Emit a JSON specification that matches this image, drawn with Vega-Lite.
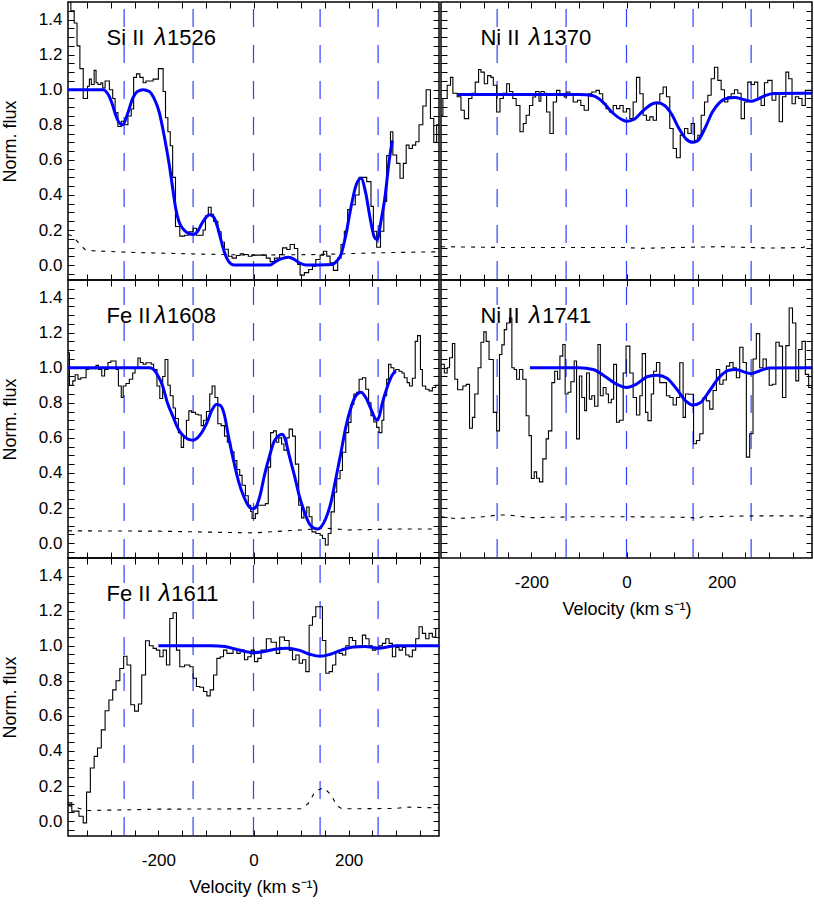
{
"$schema": "https://vega.github.io/schema/vega-lite/v6.json",
"background": "white",
"padding": {"left": 0, "top": 0, "right": 0, "bottom": 0},
"datasets": {
"vel": [{"v": -272}, {"v": -127}, {"v": 0}, {"v": 140}, {"v": 262}],
"lab": [
{"p": "a", "ion": "Si II", "lam": "λ", "wl": "1526"},
{"p": "b", "ion": "Fe II", "lam": "λ", "wl": "1608"},
{"p": "c", "ion": "Fe II", "lam": "λ", "wl": "1611"},
{"p": "d", "ion": "Ni II", "lam": "λ", "wl": "1370"},
{"p": "e", "ion": "Ni II", "lam": "λ", "wl": "1741"}
],
"spec": [
{"p":"a","v":-390,"f":1.52},{"p":"a","v":-384,"f":1.45},{"p":"a","v":-377,"f":1.38},{"p":"a","v":-371,"f":1.25},{"p":"a","v":-365,"f":1.12},{"p":"a","v":-358,"f":0.95},{"p":"a","v":-349,"f":1.02},{"p":"a","v":-345,"f":1.06},{"p":"a","v":-341,"f":1.03},{"p":"a","v":-335,"f":1.11},{"p":"a","v":-331,"f":1.04},{"p":"a","v":-327,"f":1.03},{"p":"a","v":-321,"f":1.04},{"p":"a","v":-317,"f":1.01},{"p":"a","v":-312,"f":1.05},{"p":"a","v":-303,"f":1.0},{"p":"a","v":-296,"f":0.95},{"p":"a","v":-291,"f":0.87},{"p":"a","v":-285,"f":0.79},{"p":"a","v":-278,"f":0.82},{"p":"a","v":-271,"f":0.8},{"p":"a","v":-264,"f":0.85},{"p":"a","v":-257,"f":0.89},{"p":"a","v":-252,"f":1.07},{"p":"a","v":-246,"f":1.09},{"p":"a","v":-239,"f":1.07},{"p":"a","v":-232,"f":1.04},{"p":"a","v":-226,"f":1.05},{"p":"a","v":-221,"f":1.05},{"p":"a","v":-211,"f":1.06},{"p":"a","v":-200,"f":1.12},{"p":"a","v":-190,"f":0.99},{"p":"a","v":-185,"f":0.84},{"p":"a","v":-180,"f":0.76},{"p":"a","v":-175,"f":0.68},{"p":"a","v":-170,"f":0.5},{"p":"a","v":-164,"f":0.22},{"p":"a","v":-155,"f":0.165},{"p":"a","v":-145,"f":0.17},{"p":"a","v":-136,"f":0.19},{"p":"a","v":-127,"f":0.21},{"p":"a","v":-120,"f":0.17},{"p":"a","v":-106,"f":0.2},{"p":"a","v":-101,"f":0.28},{"p":"a","v":-95,"f":0.33},{"p":"a","v":-89,"f":0.29},{"p":"a","v":-84,"f":0.25},{"p":"a","v":-75,"f":0.19},{"p":"a","v":-68,"f":0.13},{"p":"a","v":-61,"f":0.09},{"p":"a","v":-53,"f":0.05},{"p":"a","v":-45,"f":0.04},{"p":"a","v":-36,"f":0.055},{"p":"a","v":-28,"f":0.065},{"p":"a","v":-21,"f":0.06},{"p":"a","v":-11,"f":0.05},{"p":"a","v":-3,"f":0.057},{"p":"a","v":27,"f":0.04},{"p":"a","v":35,"f":0.02},{"p":"a","v":44,"f":0.04},{"p":"a","v":55,"f":0.06},{"p":"a","v":61,"f":0.098},{"p":"a","v":70,"f":0.089},{"p":"a","v":77,"f":0.117},{"p":"a","v":86,"f":0.095},{"p":"a","v":93,"f":0.004},{"p":"a","v":98,"f":-0.057},{"p":"a","v":107,"f":-0.043},{"p":"a","v":116,"f":-0.025},{"p":"a","v":124,"f":-0.006},{"p":"a","v":131,"f":0.032},{"p":"a","v":140,"f":0.057},{"p":"a","v":147,"f":0.079},{"p":"a","v":154,"f":0.051},{"p":"a","v":161,"f":0.013},{"p":"a","v":168,"f":-0.03},{"p":"a","v":177,"f":0.04},{"p":"a","v":184,"f":0.117},{"p":"a","v":191,"f":0.193},{"p":"a","v":198,"f":0.316},{"p":"a","v":205,"f":0.344},{"p":"a","v":214,"f":0.4},{"p":"a","v":222,"f":0.5},{"p":"a","v":238,"f":0.476},{"p":"a","v":247,"f":0.335},{"p":"a","v":252,"f":0.193},{"p":"a","v":259,"f":0.102},{"p":"a","v":267,"f":0.193},{"p":"a","v":274,"f":0.363},{"p":"a","v":280,"f":0.624},{"p":"a","v":288,"f":0.76},{"p":"a","v":293,"f":0.628},{"p":"a","v":301,"f":0.58},{"p":"a","v":308,"f":0.495},{"p":"a","v":315,"f":0.58},{"p":"a","v":321,"f":0.684},{"p":"a","v":327,"f":0.665},{"p":"a","v":334,"f":0.684},{"p":"a","v":341,"f":0.703},{"p":"a","v":348,"f":0.8},{"p":"a","v":356,"f":0.907},{"p":"a","v":363,"f":1.0},{"p":"a","v":372,"f":0.836},{"p":"a","v":379,"f":0.7},{"p":"a","v":385,"f":0.8},{"p":"a","v":390,"f":0.8},
{"p":"b","v":-390,"f":1.085},{"p":"b","v":-387,"f":0.9},{"p":"b","v":-380,"f":0.925},{"p":"b","v":-375,"f":0.96},{"p":"b","v":-369,"f":0.935},{"p":"b","v":-363,"f":0.943},{"p":"b","v":-352,"f":0.99},{"p":"b","v":-347,"f":0.994},{"p":"b","v":-331,"f":1.013},{"p":"b","v":-326,"f":0.99},{"p":"b","v":-319,"f":0.953},{"p":"b","v":-313,"f":0.99},{"p":"b","v":-306,"f":1.03},{"p":"b","v":-300,"f":1.038},{"p":"b","v":-289,"f":0.99},{"p":"b","v":-284,"f":0.896},{"p":"b","v":-278,"f":0.83},{"p":"b","v":-274,"f":0.896},{"p":"b","v":-268,"f":0.91},{"p":"b","v":-261,"f":0.934},{"p":"b","v":-254,"f":0.97},{"p":"b","v":-249,"f":1.0},{"p":"b","v":-243,"f":1.055},{"p":"b","v":-238,"f":1.03},{"p":"b","v":-232,"f":1.02},{"p":"b","v":-226,"f":1.028},{"p":"b","v":-215,"f":1.02},{"p":"b","v":-210,"f":0.99},{"p":"b","v":-203,"f":0.896},{"p":"b","v":-197,"f":0.824},{"p":"b","v":-191,"f":0.95},{"p":"b","v":-186,"f":1.047},{"p":"b","v":-180,"f":0.9},{"p":"b","v":-175,"f":0.84},{"p":"b","v":-169,"f":0.77},{"p":"b","v":-164,"f":0.71},{"p":"b","v":-158,"f":0.63},{"p":"b","v":-152,"f":0.546},{"p":"b","v":-147,"f":0.6},{"p":"b","v":-141,"f":0.7},{"p":"b","v":-136,"f":0.754},{"p":"b","v":-130,"f":0.745},{"p":"b","v":-122,"f":0.735},{"p":"b","v":-116,"f":0.73},{"p":"b","v":-110,"f":0.67},{"p":"b","v":-105,"f":0.7},{"p":"b","v":-99,"f":0.75},{"p":"b","v":-92,"f":0.85},{"p":"b","v":-87,"f":0.896},{"p":"b","v":-81,"f":0.83},{"p":"b","v":-75,"f":0.68},{"p":"b","v":-68,"f":0.67},{"p":"b","v":-61,"f":0.61},{"p":"b","v":-55,"f":0.575},{"p":"b","v":-48,"f":0.52},{"p":"b","v":-41,"f":0.47},{"p":"b","v":-35,"f":0.42},{"p":"b","v":-29,"f":0.386},{"p":"b","v":-24,"f":0.33},{"p":"b","v":-17,"f":0.27},{"p":"b","v":-11,"f":0.216},{"p":"b","v":-6,"f":0.18},{"p":"b","v":-3,"f":0.14},{"p":"b","v":4,"f":0.168},{"p":"b","v":9,"f":0.216},{"p":"b","v":25,"f":0.225},{"p":"b","v":31,"f":0.433},{"p":"b","v":36,"f":0.63},{"p":"b","v":42,"f":0.64},{"p":"b","v":48,"f":0.575},{"p":"b","v":53,"f":0.6},{"p":"b","v":59,"f":0.565},{"p":"b","v":64,"f":0.53},{"p":"b","v":70,"f":0.6},{"p":"b","v":75,"f":0.65},{"p":"b","v":82,"f":0.61},{"p":"b","v":88,"f":0.45},{"p":"b","v":95,"f":0.216},{"p":"b","v":101,"f":0.144},{"p":"b","v":106,"f":0.17},{"p":"b","v":112,"f":0.206},{"p":"b","v":117,"f":0.15},{"p":"b","v":123,"f":0.064},{"p":"b","v":131,"f":0.055},{"p":"b","v":140,"f":0.045},{"p":"b","v":145,"f":0.026},{"p":"b","v":151,"f":-0.011},{"p":"b","v":157,"f":0.055},{"p":"b","v":163,"f":0.178},{"p":"b","v":170,"f":0.29},{"p":"b","v":175,"f":0.367},{"p":"b","v":182,"f":0.414},{"p":"b","v":187,"f":0.518},{"p":"b","v":194,"f":0.63},{"p":"b","v":200,"f":0.688},{"p":"b","v":205,"f":0.79},{"p":"b","v":211,"f":0.85},{"p":"b","v":217,"f":0.86},{"p":"b","v":222,"f":0.934},{"p":"b","v":229,"f":0.943},{"p":"b","v":236,"f":0.877},{"p":"b","v":242,"f":0.8},{"p":"b","v":247,"f":0.726},{"p":"b","v":253,"f":0.69},{"p":"b","v":259,"f":0.66},{"p":"b","v":264,"f":0.63},{"p":"b","v":270,"f":0.7},{"p":"b","v":274,"f":0.84},{"p":"b","v":280,"f":0.934},{"p":"b","v":284,"f":1.02},{"p":"b","v":289,"f":1.0},{"p":"b","v":295,"f":0.98},{"p":"b","v":299,"f":0.99},{"p":"b","v":306,"f":0.98},{"p":"b","v":312,"f":0.97},{"p":"b","v":317,"f":0.943},{"p":"b","v":323,"f":0.915},{"p":"b","v":328,"f":0.896},{"p":"b","v":334,"f":0.94},{"p":"b","v":340,"f":1.15},{"p":"b","v":345,"f":1.183},{"p":"b","v":351,"f":0.99},{"p":"b","v":355,"f":0.896},{"p":"b","v":362,"f":0.877},{"p":"b","v":369,"f":0.868},{"p":"b","v":376,"f":0.887},{"p":"b","v":383,"f":0.9},{"p":"b","v":390,"f":0.9},
{"p":"c","v":-390,"f":0.104},{"p":"c","v":-382,"f":0.057},{"p":"c","v":-367,"f":0.028},{"p":"c","v":-358,"f":-0.01},{"p":"c","v":-351,"f":0.165},{"p":"c","v":-343,"f":0.303},{"p":"c","v":-335,"f":0.369},{"p":"c","v":-328,"f":0.417},{"p":"c","v":-320,"f":0.52},{"p":"c","v":-312,"f":0.629},{"p":"c","v":-304,"f":0.69},{"p":"c","v":-296,"f":0.748},{"p":"c","v":-289,"f":0.8},{"p":"c","v":-281,"f":0.87},{"p":"c","v":-273,"f":0.94},{"p":"c","v":-266,"f":0.89},{"p":"c","v":-258,"f":0.663},{"p":"c","v":-250,"f":0.627},{"p":"c","v":-242,"f":0.668},{"p":"c","v":-235,"f":0.833},{"p":"c","v":-227,"f":1.028},{"p":"c","v":-219,"f":1.0},{"p":"c","v":-211,"f":0.985},{"p":"c","v":-204,"f":0.975},{"p":"c","v":-197,"f":0.937},{"p":"c","v":-190,"f":0.975},{"p":"c","v":-183,"f":0.89},{"p":"c","v":-176,"f":1.155},{"p":"c","v":-169,"f":1.188},{"p":"c","v":-162,"f":0.975},{"p":"c","v":-155,"f":0.88},{"p":"c","v":-145,"f":0.89},{"p":"c","v":-134,"f":0.88},{"p":"c","v":-127,"f":0.814},{"p":"c","v":-120,"f":0.767},{"p":"c","v":-113,"f":0.763},{"p":"c","v":-105,"f":0.739},{"p":"c","v":-98,"f":0.714},{"p":"c","v":-91,"f":0.748},{"p":"c","v":-84,"f":0.833},{"p":"c","v":-77,"f":0.928},{"p":"c","v":-70,"f":0.937},{"p":"c","v":-63,"f":0.975},{"p":"c","v":-56,"f":0.956},{"p":"c","v":-43,"f":0.985},{"p":"c","v":-35,"f":0.956},{"p":"c","v":-28,"f":0.975},{"p":"c","v":-19,"f":0.92},{"p":"c","v":-12,"f":0.937},{"p":"c","v":-5,"f":0.975},{"p":"c","v":2,"f":0.909},{"p":"c","v":9,"f":0.928},{"p":"c","v":16,"f":0.975},{"p":"c","v":27,"f":1.04},{"p":"c","v":37,"f":1.02},{"p":"c","v":48,"f":0.956},{"p":"c","v":55,"f":1.05},{"p":"c","v":65,"f":1.03},{"p":"c","v":75,"f":0.975},{"p":"c","v":82,"f":0.92},{"p":"c","v":89,"f":0.947},{"p":"c","v":96,"f":0.9},{"p":"c","v":103,"f":0.92},{"p":"c","v":110,"f":0.852},{"p":"c","v":117,"f":1.117},{"p":"c","v":124,"f":1.165},{"p":"c","v":131,"f":1.222},{"p":"c","v":145,"f":1.03},{"p":"c","v":152,"f":0.843},{"p":"c","v":159,"f":0.852},{"p":"c","v":166,"f":0.89},{"p":"c","v":173,"f":0.966},{"p":"c","v":180,"f":0.956},{"p":"c","v":187,"f":0.947},{"p":"c","v":194,"f":1.0},{"p":"c","v":201,"f":1.047},{"p":"c","v":208,"f":1.03},{"p":"c","v":215,"f":0.99},{"p":"c","v":222,"f":1.0},{"p":"c","v":229,"f":1.06},{"p":"c","v":236,"f":1.04},{"p":"c","v":243,"f":1.0},{"p":"c","v":250,"f":0.975},{"p":"c","v":257,"f":0.985},{"p":"c","v":264,"f":1.0},{"p":"c","v":271,"f":1.013},{"p":"c","v":278,"f":1.04},{"p":"c","v":285,"f":1.013},{"p":"c","v":292,"f":0.937},{"p":"c","v":299,"f":0.99},{"p":"c","v":306,"f":0.975},{"p":"c","v":313,"f":0.99},{"p":"c","v":320,"f":0.947},{"p":"c","v":327,"f":0.937},{"p":"c","v":334,"f":0.975},{"p":"c","v":341,"f":1.04},{"p":"c","v":348,"f":1.108},{"p":"c","v":355,"f":1.07},{"p":"c","v":362,"f":1.04},{"p":"c","v":369,"f":1.07},{"p":"c","v":376,"f":1.05},{"p":"c","v":383,"f":1.098},{"p":"c","v":390,"f":1.098},
{"p":"d","v":-390,"f":0.854},{"p":"d","v":-386,"f":0.95},{"p":"d","v":-377,"f":1.025},{"p":"d","v":-370,"f":1.07},{"p":"d","v":-365,"f":0.98},{"p":"d","v":-356,"f":0.96},{"p":"d","v":-348,"f":0.883},{"p":"d","v":-341,"f":0.835},{"p":"d","v":-332,"f":0.95},{"p":"d","v":-325,"f":0.98},{"p":"d","v":-318,"f":1.043},{"p":"d","v":-311,"f":1.115},{"p":"d","v":-306,"f":1.1},{"p":"d","v":-299,"f":1.034},{"p":"d","v":-292,"f":1.08},{"p":"d","v":-285,"f":1.07},{"p":"d","v":-280,"f":1.025},{"p":"d","v":-273,"f":0.873},{"p":"d","v":-266,"f":0.95},{"p":"d","v":-259,"f":0.98},{"p":"d","v":-252,"f":1.034},{"p":"d","v":-246,"f":0.99},{"p":"d","v":-239,"f":0.95},{"p":"d","v":-232,"f":0.91},{"p":"d","v":-224,"f":0.76},{"p":"d","v":-217,"f":0.807},{"p":"d","v":-211,"f":0.854},{"p":"d","v":-204,"f":0.91},{"p":"d","v":-197,"f":0.958},{"p":"d","v":-191,"f":0.99},{"p":"d","v":-184,"f":0.934},{"p":"d","v":-180,"f":0.99},{"p":"d","v":-173,"f":0.98},{"p":"d","v":-168,"f":0.873},{"p":"d","v":-161,"f":0.75},{"p":"d","v":-154,"f":0.93},{"p":"d","v":-147,"f":0.996},{"p":"d","v":-140,"f":0.977},{"p":"d","v":-131,"f":0.958},{"p":"d","v":-126,"f":0.987},{"p":"d","v":-119,"f":0.977},{"p":"d","v":-112,"f":0.93},{"p":"d","v":-103,"f":0.94},{"p":"d","v":-96,"f":0.91},{"p":"d","v":-89,"f":0.883},{"p":"d","v":-80,"f":0.977},{"p":"d","v":-73,"f":0.987},{"p":"d","v":-64,"f":0.996},{"p":"d","v":-57,"f":0.977},{"p":"d","v":-50,"f":0.92},{"p":"d","v":-43,"f":0.892},{"p":"d","v":-36,"f":0.873},{"p":"d","v":-28,"f":0.91},{"p":"d","v":-21,"f":0.892},{"p":"d","v":-14,"f":0.91},{"p":"d","v":-7,"f":0.873},{"p":"d","v":0,"f":0.892},{"p":"d","v":7,"f":0.835},{"p":"d","v":14,"f":0.93},{"p":"d","v":21,"f":1.07},{"p":"d","v":28,"f":0.977},{"p":"d","v":35,"f":0.854},{"p":"d","v":42,"f":0.826},{"p":"d","v":49,"f":0.845},{"p":"d","v":56,"f":0.826},{"p":"d","v":63,"f":0.92},{"p":"d","v":70,"f":0.977},{"p":"d","v":77,"f":1.015},{"p":"d","v":84,"f":0.96},{"p":"d","v":91,"f":0.779},{"p":"d","v":98,"f":0.665},{"p":"d","v":105,"f":0.612},{"p":"d","v":113,"f":0.741},{"p":"d","v":122,"f":0.779},{"p":"d","v":129,"f":0.75},{"p":"d","v":136,"f":0.807},{"p":"d","v":143,"f":0.703},{"p":"d","v":150,"f":0.74},{"p":"d","v":157,"f":0.854},{"p":"d","v":164,"f":0.93},{"p":"d","v":171,"f":0.968},{"p":"d","v":178,"f":1.062},{"p":"d","v":185,"f":1.128},{"p":"d","v":192,"f":1.053},{"p":"d","v":199,"f":1.0},{"p":"d","v":206,"f":0.93},{"p":"d","v":213,"f":0.96},{"p":"d","v":220,"f":0.977},{"p":"d","v":227,"f":1.0},{"p":"d","v":234,"f":0.98},{"p":"d","v":241,"f":0.835},{"p":"d","v":248,"f":0.93},{"p":"d","v":255,"f":1.043},{"p":"d","v":262,"f":1.03},{"p":"d","v":269,"f":1.043},{"p":"d","v":276,"f":0.95},{"p":"d","v":283,"f":0.91},{"p":"d","v":290,"f":1.04},{"p":"d","v":297,"f":1.053},{"p":"d","v":306,"f":0.94},{"p":"d","v":314,"f":0.977},{"p":"d","v":321,"f":0.817},{"p":"d","v":328,"f":0.96},{"p":"d","v":335,"f":1.1},{"p":"d","v":341,"f":1.062},{"p":"d","v":348,"f":0.92},{"p":"d","v":355,"f":0.96},{"p":"d","v":362,"f":0.95},{"p":"d","v":369,"f":0.91},{"p":"d","v":376,"f":0.996},{"p":"d","v":383,"f":0.996},{"p":"d","v":390,"f":0.996},
{"p":"e","v":-390,"f":1.02},{"p":"e","v":-383,"f":0.97},{"p":"e","v":-377,"f":1.0},{"p":"e","v":-372,"f":1.057},{"p":"e","v":-366,"f":1.138},{"p":"e","v":-361,"f":0.934},{"p":"e","v":-355,"f":0.874},{"p":"e","v":-344,"f":0.896},{"p":"e","v":-337,"f":0.905},{"p":"e","v":-330,"f":0.655},{"p":"e","v":-324,"f":0.717},{"p":"e","v":-319,"f":0.85},{"p":"e","v":-312,"f":1.0},{"p":"e","v":-306,"f":1.145},{"p":"e","v":-300,"f":1.204},{"p":"e","v":-295,"f":1.15},{"p":"e","v":-289,"f":1.047},{"p":"e","v":-280,"f":0.745},{"p":"e","v":-273,"f":0.64},{"p":"e","v":-267,"f":1.075},{"p":"e","v":-262,"f":1.13},{"p":"e","v":-257,"f":1.217},{"p":"e","v":-252,"f":1.255},{"p":"e","v":-246,"f":1.283},{"p":"e","v":-241,"f":1.0},{"p":"e","v":-236,"f":0.99},{"p":"e","v":-231,"f":0.934},{"p":"e","v":-225,"f":0.99},{"p":"e","v":-218,"f":0.934},{"p":"e","v":-211,"f":0.726},{"p":"e","v":-205,"f":0.613},{"p":"e","v":-200,"f":0.368},{"p":"e","v":-194,"f":0.406},{"p":"e","v":-189,"f":0.37},{"p":"e","v":-183,"f":0.349},{"p":"e","v":-176,"f":0.48},{"p":"e","v":-169,"f":0.594},{"p":"e","v":-164,"f":0.64},{"p":"e","v":-157,"f":0.915},{"p":"e","v":-151,"f":0.98},{"p":"e","v":-145,"f":0.934},{"p":"e","v":-140,"f":1.066},{"p":"e","v":-134,"f":1.132},{"p":"e","v":-129,"f":0.85},{"p":"e","v":-123,"f":0.86},{"p":"e","v":-117,"f":0.92},{"p":"e","v":-110,"f":1.038},{"p":"e","v":-105,"f":0.594},{"p":"e","v":-99,"f":0.953},{"p":"e","v":-94,"f":0.83},{"p":"e","v":-88,"f":0.755},{"p":"e","v":-84,"f":0.97},{"p":"e","v":-78,"f":0.82},{"p":"e","v":-73,"f":0.84},{"p":"e","v":-67,"f":0.78},{"p":"e","v":-60,"f":1.132},{"p":"e","v":-55,"f":0.84},{"p":"e","v":-49,"f":0.887},{"p":"e","v":-43,"f":0.85},{"p":"e","v":-38,"f":0.8},{"p":"e","v":-32,"f":0.82},{"p":"e","v":-27,"f":1.019},{"p":"e","v":-21,"f":0.689},{"p":"e","v":-15,"f":0.7},{"p":"e","v":-7,"f":0.97},{"p":"e","v":-1,"f":1.123},{"p":"e","v":7,"f":0.97},{"p":"e","v":14,"f":0.83},{"p":"e","v":21,"f":0.73},{"p":"e","v":28,"f":0.84},{"p":"e","v":33,"f":1.08},{"p":"e","v":40,"f":0.745},{"p":"e","v":45,"f":0.698},{"p":"e","v":52,"f":0.85},{"p":"e","v":57,"f":0.98},{"p":"e","v":63,"f":1.03},{"p":"e","v":70,"f":0.915},{"p":"e","v":77,"f":0.915},{"p":"e","v":84,"f":0.84},{"p":"e","v":91,"f":0.83},{"p":"e","v":98,"f":0.787},{"p":"e","v":105,"f":0.83},{"p":"e","v":112,"f":1.028},{"p":"e","v":119,"f":0.717},{"p":"e","v":124,"f":0.85},{"p":"e","v":131,"f":0.849},{"p":"e","v":141,"f":0.566},{"p":"e","v":147,"f":0.585},{"p":"e","v":154,"f":0.623},{"p":"e","v":161,"f":0.83},{"p":"e","v":168,"f":0.811},{"p":"e","v":175,"f":0.764},{"p":"e","v":182,"f":0.87},{"p":"e","v":189,"f":0.99},{"p":"e","v":196,"f":0.906},{"p":"e","v":203,"f":0.93},{"p":"e","v":210,"f":1.009},{"p":"e","v":217,"f":1.03},{"p":"e","v":224,"f":1.0},{"p":"e","v":231,"f":0.943},{"p":"e","v":238,"f":1.117},{"p":"e","v":245,"f":1.03},{"p":"e","v":252,"f":0.49},{"p":"e","v":259,"f":0.623},{"p":"e","v":266,"f":1.05},{"p":"e","v":273,"f":1.194},{"p":"e","v":280,"f":1.0},{"p":"e","v":287,"f":1.05},{"p":"e","v":294,"f":1.0},{"p":"e","v":300,"f":0.9},{"p":"e","v":307,"f":0.906},{"p":"e","v":314,"f":1.145},{"p":"e","v":321,"f":1.123},{"p":"e","v":328,"f":0.83},{"p":"e","v":335,"f":1.126},{"p":"e","v":342,"f":1.34},{"p":"e","v":349,"f":1.255},{"p":"e","v":356,"f":0.925},{"p":"e","v":362,"f":1.104},{"p":"e","v":369,"f":1.15},{"p":"e","v":376,"f":0.962},{"p":"e","v":383,"f":0.887},{"p":"e","v":390,"f":0.887}
],
"fit": [
{"p":"a","v":-390,"f":1.0},{"p":"a","v":-317,"f":1.0},{"p":"a","v":-310,"f":0.99},{"p":"a","v":-303,"f":0.96},{"p":"a","v":-296,"f":0.91},{"p":"a","v":-289,"f":0.85},{"p":"a","v":-282,"f":0.81},{"p":"a","v":-275,"f":0.8},{"p":"a","v":-265,"f":0.86},{"p":"a","v":-254,"f":0.95},{"p":"a","v":-244,"f":0.99},{"p":"a","v":-232,"f":1.0},{"p":"a","v":-219,"f":0.99},{"p":"a","v":-209,"f":0.95},{"p":"a","v":-198,"f":0.87},{"p":"a","v":-188,"f":0.74},{"p":"a","v":-177,"f":0.57},{"p":"a","v":-170,"f":0.44},{"p":"a","v":-164,"f":0.33},{"p":"a","v":-157,"f":0.25},{"p":"a","v":-146,"f":0.2},{"p":"a","v":-136,"f":0.18},{"p":"a","v":-126,"f":0.175},{"p":"a","v":-118,"f":0.19},{"p":"a","v":-108,"f":0.24},{"p":"a","v":-97,"f":0.28},{"p":"a","v":-92,"f":0.287},{"p":"a","v":-83,"f":0.27},{"p":"a","v":-76,"f":0.22},{"p":"a","v":-69,"f":0.15},{"p":"a","v":-62,"f":0.08},{"p":"a","v":-52,"f":0.02},{"p":"a","v":-41,"f":0.0},{"p":"a","v":34,"f":0.0},{"p":"a","v":48,"f":0.023},{"p":"a","v":61,"f":0.038},{"p":"a","v":74,"f":0.045},{"p":"a","v":86,"f":0.032},{"p":"a","v":96,"f":0.013},{"p":"a","v":110,"f":0.0},{"p":"a","v":166,"f":0.004},{"p":"a","v":175,"f":0.023},{"p":"a","v":184,"f":0.06},{"p":"a","v":194,"f":0.17},{"p":"a","v":205,"f":0.33},{"p":"a","v":215,"f":0.45},{"p":"a","v":226,"f":0.495},{"p":"a","v":236,"f":0.41},{"p":"a","v":245,"f":0.27},{"p":"a","v":254,"f":0.16},{"p":"a","v":260,"f":0.145},{"p":"a","v":268,"f":0.25},{"p":"a","v":277,"f":0.4},{"p":"a","v":285,"f":0.59},{"p":"a","v":292,"f":0.71},
{"p":"b","v":-390,"f":1.0},{"p":"b","v":-219,"f":1.0},{"p":"b","v":-212,"f":0.994},{"p":"b","v":-202,"f":0.96},{"p":"b","v":-191,"f":0.896},{"p":"b","v":-181,"f":0.8},{"p":"b","v":-169,"f":0.72},{"p":"b","v":-160,"f":0.66},{"p":"b","v":-152,"f":0.625},{"p":"b","v":-138,"f":0.593},{"p":"b","v":-127,"f":0.587},{"p":"b","v":-113,"f":0.615},{"p":"b","v":-99,"f":0.68},{"p":"b","v":-87,"f":0.76},{"p":"b","v":-78,"f":0.79},{"p":"b","v":-70,"f":0.785},{"p":"b","v":-62,"f":0.74},{"p":"b","v":-52,"f":0.6},{"p":"b","v":-41,"f":0.46},{"p":"b","v":-31,"f":0.348},{"p":"b","v":-20,"f":0.263},{"p":"b","v":-10,"f":0.21},{"p":"b","v":-2,"f":0.195},{"p":"b","v":5,"f":0.205},{"p":"b","v":13,"f":0.263},{"p":"b","v":23,"f":0.386},{"p":"b","v":34,"f":0.5},{"p":"b","v":44,"f":0.584},{"p":"b","v":55,"f":0.616},{"p":"b","v":60,"f":0.62},{"p":"b","v":65,"f":0.605},{"p":"b","v":75,"f":0.5},{"p":"b","v":86,"f":0.386},{"p":"b","v":96,"f":0.272},{"p":"b","v":107,"f":0.178},{"p":"b","v":117,"f":0.112},{"p":"b","v":127,"f":0.085},{"p":"b","v":135,"f":0.08},{"p":"b","v":142,"f":0.092},{"p":"b","v":152,"f":0.14},{"p":"b","v":163,"f":0.234},{"p":"b","v":173,"f":0.367},{"p":"b","v":184,"f":0.518},{"p":"b","v":194,"f":0.66},{"p":"b","v":205,"f":0.773},{"p":"b","v":215,"f":0.84},{"p":"b","v":226,"f":0.86},{"p":"b","v":236,"f":0.83},{"p":"b","v":247,"f":0.764},{"p":"b","v":256,"f":0.71},{"p":"b","v":260,"f":0.7},{"p":"b","v":264,"f":0.72},{"p":"b","v":271,"f":0.8},{"p":"b","v":282,"f":0.896},{"p":"b","v":292,"f":0.96},{"p":"b","v":299,"f":0.98},
{"p":"c","v":-200,"f":1.0},{"p":"c","v":-90,"f":1.0},{"p":"c","v":-60,"f":0.995},{"p":"c","v":-30,"f":0.975},{"p":"c","v":0,"f":0.96},{"p":"c","v":20,"f":0.965},{"p":"c","v":45,"f":0.98},{"p":"c","v":70,"f":0.985},{"p":"c","v":95,"f":0.975},{"p":"c","v":120,"f":0.95},{"p":"c","v":140,"f":0.94},{"p":"c","v":160,"f":0.95},{"p":"c","v":185,"f":0.975},{"p":"c","v":210,"f":0.992},{"p":"c","v":235,"f":0.995},{"p":"c","v":250,"f":0.99},{"p":"c","v":262,"f":0.985},{"p":"c","v":275,"f":0.99},{"p":"c","v":300,"f":1.0},{"p":"c","v":390,"f":1.0},
{"p":"d","v":-356,"f":0.972},{"p":"d","v":-100,"f":0.972},{"p":"d","v":-70,"f":0.965},{"p":"d","v":-50,"f":0.93},{"p":"d","v":-30,"f":0.87},{"p":"d","v":-10,"f":0.83},{"p":"d","v":0,"f":0.82},{"p":"d","v":15,"f":0.83},{"p":"d","v":35,"f":0.88},{"p":"d","v":55,"f":0.92},{"p":"d","v":65,"f":0.925},{"p":"d","v":80,"f":0.91},{"p":"d","v":95,"f":0.86},{"p":"d","v":110,"f":0.78},{"p":"d","v":125,"f":0.72},{"p":"d","v":140,"f":0.7},{"p":"d","v":150,"f":0.71},{"p":"d","v":165,"f":0.78},{"p":"d","v":180,"f":0.87},{"p":"d","v":195,"f":0.925},{"p":"d","v":210,"f":0.95},{"p":"d","v":228,"f":0.955},{"p":"d","v":245,"f":0.945},{"p":"d","v":262,"f":0.934},{"p":"d","v":275,"f":0.945},{"p":"d","v":290,"f":0.965},{"p":"d","v":310,"f":0.978},{"p":"d","v":390,"f":0.98},
{"p":"e","v":-203,"f":1.0},{"p":"e","v":-100,"f":1.0},{"p":"e","v":-70,"f":0.99},{"p":"e","v":-45,"f":0.95},{"p":"e","v":-20,"f":0.905},{"p":"e","v":0,"f":0.887},{"p":"e","v":20,"f":0.905},{"p":"e","v":45,"f":0.95},{"p":"e","v":65,"f":0.957},{"p":"e","v":85,"f":0.94},{"p":"e","v":105,"f":0.88},{"p":"e","v":125,"f":0.81},{"p":"e","v":140,"f":0.787},{"p":"e","v":155,"f":0.8},{"p":"e","v":175,"f":0.87},{"p":"e","v":195,"f":0.945},{"p":"e","v":215,"f":0.985},{"p":"e","v":230,"f":0.99},{"p":"e","v":248,"f":0.975},{"p":"e","v":262,"f":0.966},{"p":"e","v":278,"f":0.98},{"p":"e","v":300,"f":0.998},{"p":"e","v":390,"f":1.0}
],
"err": [
{"p":"a","v":-390,"f":0.175},{"p":"a","v":-380,"f":0.165},{"p":"a","v":-366,"f":0.12},{"p":"a","v":-352,"f":0.083},{"p":"a","v":-250,"f":0.072},{"p":"a","v":-100,"f":0.062},{"p":"a","v":0,"f":0.057},{"p":"a","v":130,"f":0.06},{"p":"a","v":260,"f":0.07},{"p":"a","v":390,"f":0.076},
{"p":"b","v":-390,"f":0.07},{"p":"b","v":-200,"f":0.068},{"p":"b","v":0,"f":0.058},{"p":"b","v":100,"f":0.075},{"p":"b","v":150,"f":0.085},{"p":"b","v":200,"f":0.075},{"p":"b","v":300,"f":0.08},{"p":"b","v":390,"f":0.08},
{"p":"c","v":-390,"f":0.09},{"p":"c","v":-350,"f":0.06},{"p":"c","v":-200,"f":0.068},{"p":"c","v":0,"f":0.07},{"p":"c","v":100,"f":0.07},{"p":"c","v":115,"f":0.1},{"p":"c","v":130,"f":0.17},{"p":"c","v":148,"f":0.19},{"p":"c","v":163,"f":0.15},{"p":"c","v":176,"f":0.085},{"p":"c","v":187,"f":0.07},{"p":"c","v":300,"f":0.072},{"p":"c","v":320,"f":0.08},{"p":"c","v":390,"f":0.075},
{"p":"d","v":-390,"f":0.105},{"p":"d","v":-250,"f":0.1},{"p":"d","v":-130,"f":0.1},{"p":"d","v":0,"f":0.1},{"p":"d","v":30,"f":0.095},{"p":"d","v":100,"f":0.1},{"p":"d","v":200,"f":0.105},{"p":"d","v":300,"f":0.097},{"p":"d","v":370,"f":0.1},{"p":"d","v":390,"f":0.115},
{"p":"e","v":-390,"f":0.15},{"p":"e","v":-360,"f":0.14},{"p":"e","v":-320,"f":0.145},{"p":"e","v":-270,"f":0.16},{"p":"e","v":-250,"f":0.16},{"p":"e","v":-200,"f":0.145},{"p":"e","v":-100,"f":0.15},{"p":"e","v":0,"f":0.15},{"p":"e","v":100,"f":0.148},{"p":"e","v":140,"f":0.145},{"p":"e","v":145,"f":0.135},{"p":"e","v":160,"f":0.15},{"p":"e","v":262,"f":0.155},{"p":"e","v":390,"f":0.155}
]
},
"hconcat": [
{"vconcat": [
{"width": 371, "height": 278, "layer": [
{"data": {"name": "vel"}, "mark": {"type": "rule", "color": "#3040ff", "strokeWidth": 1.2, "strokeDash": [18, 18], "strokeDashOffset": 29}, "encoding": {"x": {"field": "v", "type": "quantitative", "scale": {"domain": [-390, 390], "nice": false, "zero": false}, "axis": {"orient": "bottom", "values": [-350,-300,-250,-200,-150,-100,-50,0,50,100,150,200,250,300,350], "labels": false, "title": null}}}},
{"data": {"name": "err"}, "transform": [{"filter": "datum.p === 'a'"}], "mark": {"type": "line", "color": "black", "strokeWidth": 1.1, "strokeDash": [4, 6], "clip": true}, "encoding": {"x": {"field": "v", "type": "quantitative", "scale": {"domain": [-390, 390], "nice": false, "zero": false}, "axis": null}, "y": {"field": "f", "type": "quantitative", "scale": {"domain": [-0.085, 1.5], "nice": false, "zero": false}, "axis": null}}},
{"data": {"name": "spec"}, "transform": [{"filter": "datum.p === 'a'"}], "mark": {"type": "line", "interpolate": "step-after", "color": "black", "strokeWidth": 1.1, "clip": true}, "encoding": {"x": {"field": "v", "type": "quantitative", "scale": {"domain": [-390, 390], "nice": false, "zero": false}, "axis": {"orient": "top", "values": [-350,-300,-250,-200,-150,-100,-50,0,50,100,150,200,250,300,350], "labels": false, "title": null}}, "y": {"field": "f", "type": "quantitative", "scale": {"domain": [-0.085, 1.5], "nice": false, "zero": false}, "axis": {"orient": "left", "values": [-0.05,0,0.05,0.1,0.15,0.2,0.25,0.3,0.35,0.4,0.45,0.5,0.55,0.6,0.65,0.7,0.75,0.8,0.85,0.9,0.95,1,1.05,1.1,1.15,1.2,1.25,1.3,1.35,1.4,1.45], "labelExpr": "(round(datum.value*20) % 4 === 0 && datum.value >= 0) ? format(datum.value, '.1f') : ''", "labelPadding": 12, "title": "Norm. flux", "titlePadding": 19}}}},
{"data": {"name": "fit"}, "transform": [{"filter": "datum.p === 'a'"}], "mark": {"type": "line", "interpolate": "monotone", "color": "#0000ff", "strokeWidth": 3, "clip": true}, "encoding": {"x": {"field": "v", "type": "quantitative", "scale": {"domain": [-390, 390], "nice": false, "zero": false}, "axis": null}, "y": {"field": "f", "type": "quantitative", "scale": {"domain": [-0.085, 1.5], "nice": false, "zero": false}, "axis": {"orient": "right", "values": [-0.05,0,0.05,0.1,0.15,0.2,0.25,0.3,0.35,0.4,0.45,0.5,0.55,0.6,0.65,0.7,0.75,0.8,0.85,0.9,0.95,1,1.05,1.1,1.15,1.2,1.25,1.3,1.35,1.4,1.45], "labels": false, "title": null}}}},
{"data": {"name": "lab"}, "transform": [{"filter": "datum.p === 'a'"}], "mark": {"type": "text", "align": "left", "baseline": "alphabetic", "fontSize": 22, "font": "Liberation Sans", "color": "black"}, "encoding": {"x": {"datum": -309, "scale": {"domain": [-390, 390], "nice": false, "zero": false}, "axis": null}, "y": {"datum": 1.255, "scale": {"domain": [-0.085, 1.5], "nice": false, "zero": false}, "axis": null}, "text": {"field": "ion"}}},
{"data": {"name": "lab"}, "transform": [{"filter": "datum.p === 'a'"}], "mark": {"type": "text", "align": "left", "baseline": "alphabetic", "fontSize": 24, "font": "Liberation Sans", "fontStyle": "italic", "color": "black"}, "encoding": {"x": {"datum": -208, "scale": {"domain": [-390, 390], "nice": false, "zero": false}, "axis": null}, "y": {"datum": 1.255, "scale": {"domain": [-0.085, 1.5], "nice": false, "zero": false}, "axis": null}, "text": {"field": "lam"}}},
{"data": {"name": "lab"}, "transform": [{"filter": "datum.p === 'a'"}], "mark": {"type": "text", "align": "left", "baseline": "alphabetic", "fontSize": 22, "font": "Liberation Sans", "color": "black"}, "encoding": {"x": {"datum": -182, "scale": {"domain": [-390, 390], "nice": false, "zero": false}, "axis": null}, "y": {"datum": 1.255, "scale": {"domain": [-0.085, 1.5], "nice": false, "zero": false}, "axis": null}, "text": {"field": "wl"}}}
], "resolve": {"axis": {"x": "independent", "y": "independent"}}},
{"width": 371, "height": 278, "layer": [
{"data": {"name": "vel"}, "mark": {"type": "rule", "color": "#3040ff", "strokeWidth": 1.2, "strokeDash": [18, 18], "strokeDashOffset": 29}, "encoding": {"x": {"field": "v", "type": "quantitative", "scale": {"domain": [-390, 390], "nice": false, "zero": false}, "axis": {"orient": "bottom", "values": [-350,-300,-250,-200,-150,-100,-50,0,50,100,150,200,250,300,350], "labels": false, "title": null}}}},
{"data": {"name": "err"}, "transform": [{"filter": "datum.p === 'b'"}], "mark": {"type": "line", "color": "black", "strokeWidth": 1.1, "strokeDash": [4, 6], "clip": true}, "encoding": {"x": {"field": "v", "type": "quantitative", "scale": {"domain": [-390, 390], "nice": false, "zero": false}, "axis": null}, "y": {"field": "f", "type": "quantitative", "scale": {"domain": [-0.085, 1.5], "nice": false, "zero": false}, "axis": null}}},
{"data": {"name": "spec"}, "transform": [{"filter": "datum.p === 'b'"}], "mark": {"type": "line", "interpolate": "step-after", "color": "black", "strokeWidth": 1.1, "clip": true}, "encoding": {"x": {"field": "v", "type": "quantitative", "scale": {"domain": [-390, 390], "nice": false, "zero": false}, "axis": {"orient": "top", "values": [-350,-300,-250,-200,-150,-100,-50,0,50,100,150,200,250,300,350], "labels": false, "title": null}}, "y": {"field": "f", "type": "quantitative", "scale": {"domain": [-0.085, 1.5], "nice": false, "zero": false}, "axis": {"orient": "left", "values": [-0.05,0,0.05,0.1,0.15,0.2,0.25,0.3,0.35,0.4,0.45,0.5,0.55,0.6,0.65,0.7,0.75,0.8,0.85,0.9,0.95,1,1.05,1.1,1.15,1.2,1.25,1.3,1.35,1.4,1.45], "labelExpr": "(round(datum.value*20) % 4 === 0 && datum.value >= 0) ? format(datum.value, '.1f') : ''", "labelPadding": 12, "title": "Norm. flux", "titlePadding": 19}}}},
{"data": {"name": "fit"}, "transform": [{"filter": "datum.p === 'b'"}], "mark": {"type": "line", "interpolate": "monotone", "color": "#0000ff", "strokeWidth": 3, "clip": true}, "encoding": {"x": {"field": "v", "type": "quantitative", "scale": {"domain": [-390, 390], "nice": false, "zero": false}, "axis": null}, "y": {"field": "f", "type": "quantitative", "scale": {"domain": [-0.085, 1.5], "nice": false, "zero": false}, "axis": {"orient": "right", "values": [-0.05,0,0.05,0.1,0.15,0.2,0.25,0.3,0.35,0.4,0.45,0.5,0.55,0.6,0.65,0.7,0.75,0.8,0.85,0.9,0.95,1,1.05,1.1,1.15,1.2,1.25,1.3,1.35,1.4,1.45], "labels": false, "title": null}}}},
{"data": {"name": "lab"}, "transform": [{"filter": "datum.p === 'b'"}], "mark": {"type": "text", "align": "left", "baseline": "alphabetic", "fontSize": 22, "font": "Liberation Sans", "color": "black"}, "encoding": {"x": {"datum": -309, "scale": {"domain": [-390, 390], "nice": false, "zero": false}, "axis": null}, "y": {"datum": 1.255, "scale": {"domain": [-0.085, 1.5], "nice": false, "zero": false}, "axis": null}, "text": {"field": "ion"}}},
{"data": {"name": "lab"}, "transform": [{"filter": "datum.p === 'b'"}], "mark": {"type": "text", "align": "left", "baseline": "alphabetic", "fontSize": 24, "font": "Liberation Sans", "fontStyle": "italic", "color": "black"}, "encoding": {"x": {"datum": -208, "scale": {"domain": [-390, 390], "nice": false, "zero": false}, "axis": null}, "y": {"datum": 1.255, "scale": {"domain": [-0.085, 1.5], "nice": false, "zero": false}, "axis": null}, "text": {"field": "lam"}}},
{"data": {"name": "lab"}, "transform": [{"filter": "datum.p === 'b'"}], "mark": {"type": "text", "align": "left", "baseline": "alphabetic", "fontSize": 22, "font": "Liberation Sans", "color": "black"}, "encoding": {"x": {"datum": -182, "scale": {"domain": [-390, 390], "nice": false, "zero": false}, "axis": null}, "y": {"datum": 1.255, "scale": {"domain": [-0.085, 1.5], "nice": false, "zero": false}, "axis": null}, "text": {"field": "wl"}}}
], "resolve": {"axis": {"x": "independent", "y": "independent"}}},
{"width": 371, "height": 278, "layer": [
{"data": {"name": "vel"}, "mark": {"type": "rule", "color": "#3040ff", "strokeWidth": 1.2, "strokeDash": [18, 18], "strokeDashOffset": 29}, "encoding": {"x": {"field": "v", "type": "quantitative", "scale": {"domain": [-390, 390], "nice": false, "zero": false}, "axis": {"orient": "bottom", "values": [-350,-300,-250,-200,-150,-100,-50,0,50,100,150,200,250,300,350], "labelExpr": "datum.value % 200 === 0 ? '' + datum.value : ''", "labelPadding": 22, "title": "Velocity (km s⁻¹)", "titlePadding": 10}}}},
{"data": {"name": "err"}, "transform": [{"filter": "datum.p === 'c'"}], "mark": {"type": "line", "color": "black", "strokeWidth": 1.1, "strokeDash": [4, 6], "clip": true}, "encoding": {"x": {"field": "v", "type": "quantitative", "scale": {"domain": [-390, 390], "nice": false, "zero": false}, "axis": null}, "y": {"field": "f", "type": "quantitative", "scale": {"domain": [-0.085, 1.5], "nice": false, "zero": false}, "axis": null}}},
{"data": {"name": "spec"}, "transform": [{"filter": "datum.p === 'c'"}], "mark": {"type": "line", "interpolate": "step-after", "color": "black", "strokeWidth": 1.1, "clip": true}, "encoding": {"x": {"field": "v", "type": "quantitative", "scale": {"domain": [-390, 390], "nice": false, "zero": false}, "axis": {"orient": "top", "values": [-350,-300,-250,-200,-150,-100,-50,0,50,100,150,200,250,300,350], "labels": false, "title": null}}, "y": {"field": "f", "type": "quantitative", "scale": {"domain": [-0.085, 1.5], "nice": false, "zero": false}, "axis": {"orient": "left", "values": [-0.05,0,0.05,0.1,0.15,0.2,0.25,0.3,0.35,0.4,0.45,0.5,0.55,0.6,0.65,0.7,0.75,0.8,0.85,0.9,0.95,1,1.05,1.1,1.15,1.2,1.25,1.3,1.35,1.4,1.45], "labelExpr": "(round(datum.value*20) % 4 === 0 && datum.value >= 0) ? format(datum.value, '.1f') : ''", "labelPadding": 12, "title": "Norm. flux", "titlePadding": 19}}}},
{"data": {"name": "fit"}, "transform": [{"filter": "datum.p === 'c'"}], "mark": {"type": "line", "interpolate": "monotone", "color": "#0000ff", "strokeWidth": 3, "clip": true}, "encoding": {"x": {"field": "v", "type": "quantitative", "scale": {"domain": [-390, 390], "nice": false, "zero": false}, "axis": null}, "y": {"field": "f", "type": "quantitative", "scale": {"domain": [-0.085, 1.5], "nice": false, "zero": false}, "axis": {"orient": "right", "values": [-0.05,0,0.05,0.1,0.15,0.2,0.25,0.3,0.35,0.4,0.45,0.5,0.55,0.6,0.65,0.7,0.75,0.8,0.85,0.9,0.95,1,1.05,1.1,1.15,1.2,1.25,1.3,1.35,1.4,1.45], "labels": false, "title": null}}}},
{"data": {"name": "lab"}, "transform": [{"filter": "datum.p === 'c'"}], "mark": {"type": "text", "align": "left", "baseline": "alphabetic", "fontSize": 22, "font": "Liberation Sans", "color": "black"}, "encoding": {"x": {"datum": -309, "scale": {"domain": [-390, 390], "nice": false, "zero": false}, "axis": null}, "y": {"datum": 1.255, "scale": {"domain": [-0.085, 1.5], "nice": false, "zero": false}, "axis": null}, "text": {"field": "ion"}}},
{"data": {"name": "lab"}, "transform": [{"filter": "datum.p === 'c'"}], "mark": {"type": "text", "align": "left", "baseline": "alphabetic", "fontSize": 24, "font": "Liberation Sans", "fontStyle": "italic", "color": "black"}, "encoding": {"x": {"datum": -199, "scale": {"domain": [-390, 390], "nice": false, "zero": false}, "axis": null}, "y": {"datum": 1.255, "scale": {"domain": [-0.085, 1.5], "nice": false, "zero": false}, "axis": null}, "text": {"field": "lam"}}},
{"data": {"name": "lab"}, "transform": [{"filter": "datum.p === 'c'"}], "mark": {"type": "text", "align": "left", "baseline": "alphabetic", "fontSize": 22, "font": "Liberation Sans", "color": "black"}, "encoding": {"x": {"datum": -173, "scale": {"domain": [-390, 390], "nice": false, "zero": false}, "axis": null}, "y": {"datum": 1.255, "scale": {"domain": [-0.085, 1.5], "nice": false, "zero": false}, "axis": null}, "text": {"field": "wl"}}}
], "resolve": {"axis": {"x": "independent", "y": "independent"}}}
], "spacing": 0, "bounds": "flush"},
{"vconcat": [
{"width": 371, "height": 278, "layer": [
{"data": {"name": "vel"}, "mark": {"type": "rule", "color": "#3040ff", "strokeWidth": 1.2, "strokeDash": [18, 18], "strokeDashOffset": 29}, "encoding": {"x": {"field": "v", "type": "quantitative", "scale": {"domain": [-390, 390], "nice": false, "zero": false}, "axis": {"orient": "bottom", "values": [-350,-300,-250,-200,-150,-100,-50,0,50,100,150,200,250,300,350], "labels": false, "title": null}}}},
{"data": {"name": "err"}, "transform": [{"filter": "datum.p === 'd'"}], "mark": {"type": "line", "color": "black", "strokeWidth": 1.1, "strokeDash": [4, 6], "clip": true}, "encoding": {"x": {"field": "v", "type": "quantitative", "scale": {"domain": [-390, 390], "nice": false, "zero": false}, "axis": null}, "y": {"field": "f", "type": "quantitative", "scale": {"domain": [-0.085, 1.5], "nice": false, "zero": false}, "axis": null}}},
{"data": {"name": "spec"}, "transform": [{"filter": "datum.p === 'd'"}], "mark": {"type": "line", "interpolate": "step-after", "color": "black", "strokeWidth": 1.1, "clip": true}, "encoding": {"x": {"field": "v", "type": "quantitative", "scale": {"domain": [-390, 390], "nice": false, "zero": false}, "axis": {"orient": "top", "values": [-350,-300,-250,-200,-150,-100,-50,0,50,100,150,200,250,300,350], "labels": false, "title": null}}, "y": {"field": "f", "type": "quantitative", "scale": {"domain": [-0.085, 1.5], "nice": false, "zero": false}, "axis": {"orient": "left", "values": [-0.05,0,0.05,0.1,0.15,0.2,0.25,0.3,0.35,0.4,0.45,0.5,0.55,0.6,0.65,0.7,0.75,0.8,0.85,0.9,0.95,1,1.05,1.1,1.15,1.2,1.25,1.3,1.35,1.4,1.45], "labels": false, "title": null}}}},
{"data": {"name": "fit"}, "transform": [{"filter": "datum.p === 'd'"}], "mark": {"type": "line", "interpolate": "monotone", "color": "#0000ff", "strokeWidth": 3, "clip": true}, "encoding": {"x": {"field": "v", "type": "quantitative", "scale": {"domain": [-390, 390], "nice": false, "zero": false}, "axis": null}, "y": {"field": "f", "type": "quantitative", "scale": {"domain": [-0.085, 1.5], "nice": false, "zero": false}, "axis": {"orient": "right", "values": [-0.05,0,0.05,0.1,0.15,0.2,0.25,0.3,0.35,0.4,0.45,0.5,0.55,0.6,0.65,0.7,0.75,0.8,0.85,0.9,0.95,1,1.05,1.1,1.15,1.2,1.25,1.3,1.35,1.4,1.45], "labels": false, "title": null}}}},
{"data": {"name": "lab"}, "transform": [{"filter": "datum.p === 'd'"}], "mark": {"type": "text", "align": "left", "baseline": "alphabetic", "fontSize": 22, "font": "Liberation Sans", "color": "black"}, "encoding": {"x": {"datum": -307, "scale": {"domain": [-390, 390], "nice": false, "zero": false}, "axis": null}, "y": {"datum": 1.255, "scale": {"domain": [-0.085, 1.5], "nice": false, "zero": false}, "axis": null}, "text": {"field": "ion"}}},
{"data": {"name": "lab"}, "transform": [{"filter": "datum.p === 'd'"}], "mark": {"type": "text", "align": "left", "baseline": "alphabetic", "fontSize": 24, "font": "Liberation Sans", "fontStyle": "italic", "color": "black"}, "encoding": {"x": {"datum": -205, "scale": {"domain": [-390, 390], "nice": false, "zero": false}, "axis": null}, "y": {"datum": 1.255, "scale": {"domain": [-0.085, 1.5], "nice": false, "zero": false}, "axis": null}, "text": {"field": "lam"}}},
{"data": {"name": "lab"}, "transform": [{"filter": "datum.p === 'd'"}], "mark": {"type": "text", "align": "left", "baseline": "alphabetic", "fontSize": 22, "font": "Liberation Sans", "color": "black"}, "encoding": {"x": {"datum": -177, "scale": {"domain": [-390, 390], "nice": false, "zero": false}, "axis": null}, "y": {"datum": 1.255, "scale": {"domain": [-0.085, 1.5], "nice": false, "zero": false}, "axis": null}, "text": {"field": "wl"}}}
], "resolve": {"axis": {"x": "independent", "y": "independent"}}},
{"width": 371, "height": 278, "layer": [
{"data": {"name": "vel"}, "mark": {"type": "rule", "color": "#3040ff", "strokeWidth": 1.2, "strokeDash": [18, 18], "strokeDashOffset": 29}, "encoding": {"x": {"field": "v", "type": "quantitative", "scale": {"domain": [-390, 390], "nice": false, "zero": false}, "axis": {"orient": "bottom", "values": [-350,-300,-250,-200,-150,-100,-50,0,50,100,150,200,250,300,350], "labelExpr": "datum.value % 200 === 0 ? '' + datum.value : ''", "labelPadding": 22, "title": "Velocity (km s⁻¹)", "titlePadding": 10}}}},
{"data": {"name": "err"}, "transform": [{"filter": "datum.p === 'e'"}], "mark": {"type": "line", "color": "black", "strokeWidth": 1.1, "strokeDash": [4, 6], "clip": true}, "encoding": {"x": {"field": "v", "type": "quantitative", "scale": {"domain": [-390, 390], "nice": false, "zero": false}, "axis": null}, "y": {"field": "f", "type": "quantitative", "scale": {"domain": [-0.085, 1.5], "nice": false, "zero": false}, "axis": null}}},
{"data": {"name": "spec"}, "transform": [{"filter": "datum.p === 'e'"}], "mark": {"type": "line", "interpolate": "step-after", "color": "black", "strokeWidth": 1.1, "clip": true}, "encoding": {"x": {"field": "v", "type": "quantitative", "scale": {"domain": [-390, 390], "nice": false, "zero": false}, "axis": {"orient": "top", "values": [-350,-300,-250,-200,-150,-100,-50,0,50,100,150,200,250,300,350], "labels": false, "title": null}}, "y": {"field": "f", "type": "quantitative", "scale": {"domain": [-0.085, 1.5], "nice": false, "zero": false}, "axis": {"orient": "left", "values": [-0.05,0,0.05,0.1,0.15,0.2,0.25,0.3,0.35,0.4,0.45,0.5,0.55,0.6,0.65,0.7,0.75,0.8,0.85,0.9,0.95,1,1.05,1.1,1.15,1.2,1.25,1.3,1.35,1.4,1.45], "labels": false, "title": null}}}},
{"data": {"name": "fit"}, "transform": [{"filter": "datum.p === 'e'"}], "mark": {"type": "line", "interpolate": "monotone", "color": "#0000ff", "strokeWidth": 3, "clip": true}, "encoding": {"x": {"field": "v", "type": "quantitative", "scale": {"domain": [-390, 390], "nice": false, "zero": false}, "axis": null}, "y": {"field": "f", "type": "quantitative", "scale": {"domain": [-0.085, 1.5], "nice": false, "zero": false}, "axis": {"orient": "right", "values": [-0.05,0,0.05,0.1,0.15,0.2,0.25,0.3,0.35,0.4,0.45,0.5,0.55,0.6,0.65,0.7,0.75,0.8,0.85,0.9,0.95,1,1.05,1.1,1.15,1.2,1.25,1.3,1.35,1.4,1.45], "labels": false, "title": null}}}},
{"data": {"name": "lab"}, "transform": [{"filter": "datum.p === 'e'"}], "mark": {"type": "text", "align": "left", "baseline": "alphabetic", "fontSize": 22, "font": "Liberation Sans", "color": "black"}, "encoding": {"x": {"datum": -307, "scale": {"domain": [-390, 390], "nice": false, "zero": false}, "axis": null}, "y": {"datum": 1.255, "scale": {"domain": [-0.085, 1.5], "nice": false, "zero": false}, "axis": null}, "text": {"field": "ion"}}},
{"data": {"name": "lab"}, "transform": [{"filter": "datum.p === 'e'"}], "mark": {"type": "text", "align": "left", "baseline": "alphabetic", "fontSize": 24, "font": "Liberation Sans", "fontStyle": "italic", "color": "black"}, "encoding": {"x": {"datum": -205, "scale": {"domain": [-390, 390], "nice": false, "zero": false}, "axis": null}, "y": {"datum": 1.255, "scale": {"domain": [-0.085, 1.5], "nice": false, "zero": false}, "axis": null}, "text": {"field": "lam"}}},
{"data": {"name": "lab"}, "transform": [{"filter": "datum.p === 'e'"}], "mark": {"type": "text", "align": "left", "baseline": "alphabetic", "fontSize": 22, "font": "Liberation Sans", "color": "black"}, "encoding": {"x": {"datum": -177, "scale": {"domain": [-390, 390], "nice": false, "zero": false}, "axis": null}, "y": {"datum": 1.255, "scale": {"domain": [-0.085, 1.5], "nice": false, "zero": false}, "axis": null}, "text": {"field": "wl"}}}
], "resolve": {"axis": {"x": "independent", "y": "independent"}}}
], "spacing": 0, "bounds": "flush"}
],
"spacing": -3,
"config": {
"view": {"stroke": "black", "strokeWidth": 1.5},
"axis": {"domain": false, "grid": false, "tickColor": "black", "tickWidth": 1, "tickSize": -6, "labelFont": "Liberation Sans", "labelFontSize": 17, "labelColor": "black", "titleFont": "Liberation Sans", "titleFontSize": 18, "titleFontWeight": "normal", "titleColor": "black", "labelOverlap": false, "labelFlush": false}
}
}
